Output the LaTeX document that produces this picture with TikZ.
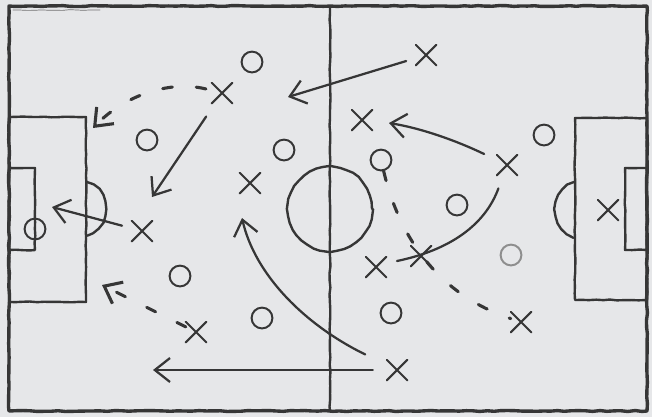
\documentclass[tikz,border=0pt]{standalone}
\usepackage{tikz}
\usetikzlibrary{
  arrows.meta,
  shapes.misc,
  decorations.pathmorphing,
}
\definecolor{chalk}{HTML}{363636}
\definecolor{faint}{HTML}{8E8E8E}
\definecolor{board}{HTML}{E6E7E9}
\tikzset{
  >={Straight Barb[length=3.8mm,width=6mm]},
  pitch/.style={
    draw=chalk,
    line width=1.7pt,
    line cap=round,
    line join=round,
    decorate,
    decoration={random steps, segment length=5pt, amplitude=0.35pt},
  },
  home/.style={
    circle,
    draw=chalk,
    line width=1.4pt,
    minimum size=0.52cm,
    inner sep=0pt,
  },
  away/.style={
    cross out,
    draw=chalk,
    line width=1.5pt,
    line cap=round,
    minimum size=0.46cm,
    inner sep=0pt,
  },
  runline/.style={draw=chalk, line width=1.6pt, line cap=round},
  passline/.style={runline, line width=2.2pt, dash pattern=on 7pt off 17pt},
}

\begin{document}
\begin{tikzpicture}[x=0.025cm,y=-0.025cm]
  \fill[board] (0,0) rectangle (652,417);
  \pgfmathsetseed{7}

  % --- pitch ---
  \draw[pitch, line width=2.4pt] (9,6) rectangle (647,411);
  \draw[pitch, line width=0.5pt, chalk!70] (13,10) -- (100,10);
  \draw[pitch] (330,6) -- (330,411);
  \draw[pitch] (330,209) circle (1.05cm);
  \draw[pitch] (9,117) rectangle (86,302);
  \draw[pitch] (9,168) rectangle (35,250);
  \draw[pitch] (87,182) .. controls (112,190) and (112,227) .. (87,235);
  \draw[pitch] (575,118) rectangle (647,300);
  \draw[pitch] (625,168) rectangle (647,250);
  \draw[pitch] (574,182) .. controls (549,192) and (549,228) .. (574,237);

  % --- players ---
  \foreach \n/\x/\y in {oa/252/62, ob/147/140, oc/284/150, od/381/160,
    oe/544/135, of/457/205, oh/180/276, oi/262/318, oj/391/313, ok/35/229} {
    \node[home] (\n) at (\x,\y) {};
  }
  \node[home, draw=faint] (og) at (511,255) {};
  \foreach \n/\x/\y in {xa/222/93, xb/250/183, xc/426/55, xd/362/120,
    xe/507/165, xf/142/231, xg/196/332, xh/376/267, xi/421/256,
    xj/521/322, xk/397/370, xl/608/210} {
    \node[away] (\n) at (\x,\y) {};
  }

  % --- runs and passes ---
  \coordinate (ta) at (93,128);
  \coordinate (tb) at (152,197);
  \coordinate (tc) at (288,97);
  \coordinate (td) at (389,123);
  \coordinate (te) at (397,261);
  \coordinate (tf) at (52,207);
  \coordinate (tg) at (102,285);
  \coordinate (tk) at (153,370);
  \coordinate (tm) at (242,218);

  \draw[passline, ->, shorten <=1.5mm] (xa) .. controls (170,80) and (125,95) .. (ta);
  \draw[runline, ->, shorten <=4mm] (xa) -- (tb);
  \draw[runline, ->, shorten <=2.5mm] (xc) -- (tc);
  \draw[runline, ->, shorten <=3.5mm] (xe) .. controls (455,140) and (420,128) .. (td);
  \draw[runline, shorten <=3.5mm] (xe) .. controls (485,225) and (450,250) .. (te);
  \draw[passline] (od) .. controls (400,240) and (440,295) .. (xj);
  \draw[runline, ->, shorten <=2.5mm] (xf) -- (tf);
  \draw[passline, ->] (xg) -- (tg);
  \draw[runline, ->, shorten <=3.5mm] (xk) -- (tk);
  \draw[runline, ->, shorten <=6mm] (xk) .. controls (305,325) and (255,275) .. (tm);
\end{tikzpicture}
\end{document}
